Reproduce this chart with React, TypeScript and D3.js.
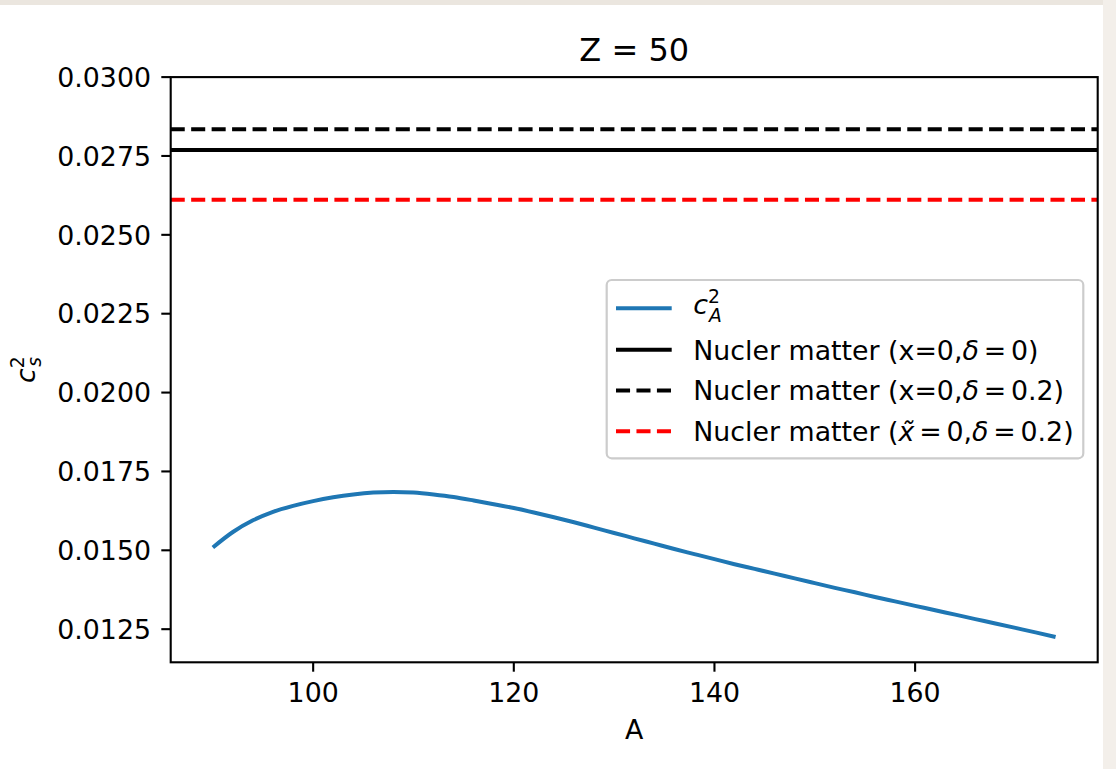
import React from "react";
import * as d3 from "d3";

// Mass numbers A and the corresponding c_A^2 curve (Z = 50)
const A_VALUES = [
  90, 92, 94, 96, 98, 100, 102, 104, 106, 108, 110, 112, 114, 116, 118, 120, 122,
  124, 126, 128, 130, 132, 134, 136, 138, 140, 142, 144, 146, 148, 150, 152, 154,
  156, 158, 160, 162, 164, 166, 168, 170, 172, 174,
];
const CA2_VALUES = [
  0.01509, 0.01558, 0.01595, 0.01622, 0.01641, 0.01656, 0.01668, 0.01677, 0.01683,
  0.01685, 0.01683, 0.01677, 0.01669, 0.01658, 0.01646, 0.01634, 0.0162, 0.01605,
  0.01589, 0.01572, 0.01555, 0.01538, 0.01521, 0.01504, 0.01488, 0.01472, 0.01456,
  0.01441, 0.01426, 0.01411, 0.01396, 0.01381, 0.01367, 0.01352, 0.01338, 0.01324,
  0.0131, 0.01296, 0.01282, 0.01268, 0.01254, 0.0124, 0.01225,
];

// Nuclear matter reference levels
const NM_X0_D0 = 0.02769;
const NM_X0_D02 = 0.02835;
const NM_XT0_D02 = 0.02611;

const X_TICKS = [100, 120, 140, 160];
const Y_TICKS = [0.0125, 0.015, 0.0175, 0.02, 0.0225, 0.025, 0.0275, 0.03];

const X_DOMAIN = [85.8, 178.2];
const Y_DOMAIN = [0.01145, 0.03];

const W = 1116;
const H = 769;
const PLOT = { left: 170.7, right: 1097.7, top: 77.1, bottom: 662.3 };

const FONT = "'DejaVu Sans', sans-serif";
const FS = 26.8;
const BLUE = "#1f77b4";
const LW = 4;
const DASH = `${3.7 * LW * 0.95},${1.6 * LW}`;
const REL = 4.8; // spacing around "=" in math segments

export default function App() {
  const x = d3.scaleLinear().domain(X_DOMAIN).range([PLOT.left, PLOT.right]);
  const y = d3.scaleLinear().domain(Y_DOMAIN).range([PLOT.bottom, PLOT.top]);

  const pts: [number, number][] = A_VALUES.map((a, i) => [a, CA2_VALUES[i]]);
  const line = d3
    .line<[number, number]>()
    .x((d) => x(d[0]))
    .y((d) => y(d[1]))
    .curve(d3.curveMonotoneX);

  const tick = 9.4;
  const legend = { x: 606.7, y: 280, w: 476.6, h: 178.3 };
  const rowY = [308.3, 349.8, 390.5, 431.2];
  const lx0 = 616;
  const lx1 = 671.7;
  const tx = 693.3;

  const mathEq = (rhs: string) => [
    <tspan key="eq" dx={REL}>=</tspan>,
    <tspan key="rhs" dx={REL}>{rhs}</tspan>,
  ];

  return (
    <div style={{ position: "absolute", left: 0, top: 0, width: W, height: H }}>
      <svg width={W} height={H} style={{ display: "block" }} fontFamily={FONT}>
        <rect x={0} y={0} width={W} height={H} fill="#ffffff" />
        <rect x={0} y={0} width={W} height={5} fill="#ebe6df" />
        <rect x={1103} y={0} width={W - 1103} height={H} fill="#f3efea" />

        <defs>
          <clipPath id="plot-clip">
            <rect
              x={PLOT.left}
              y={PLOT.top}
              width={PLOT.right - PLOT.left}
              height={PLOT.bottom - PLOT.top}
            />
          </clipPath>
        </defs>

        <g clipPath="url(#plot-clip)">
          <line
            x1={PLOT.left}
            x2={PLOT.right}
            y1={y(NM_X0_D0)}
            y2={y(NM_X0_D0)}
            stroke="#000"
            strokeWidth={LW}
          />
          <line
            x1={PLOT.left}
            x2={PLOT.right}
            y1={y(NM_X0_D02)}
            y2={y(NM_X0_D02)}
            stroke="#000"
            strokeWidth={LW}
            strokeDasharray={DASH}
          />
          <line
            x1={PLOT.left}
            x2={PLOT.right}
            y1={y(NM_XT0_D02)}
            y2={y(NM_XT0_D02)}
            stroke="#ff0000"
            strokeWidth={LW}
            strokeDasharray={DASH}
          />
          <path d={line(pts) || ""} fill="none" stroke={BLUE} strokeWidth={LW} />
        </g>

        {/* axes frame */}
        <rect
          x={PLOT.left}
          y={PLOT.top}
          width={PLOT.right - PLOT.left}
          height={PLOT.bottom - PLOT.top}
          fill="none"
          stroke="#000"
          strokeWidth={2.1}
        />

        {/* x ticks */}
        {X_TICKS.map((t) => (
          <g key={`x${t}`}>
            <line
              x1={x(t)}
              x2={x(t)}
              y1={PLOT.bottom}
              y2={PLOT.bottom + tick}
              stroke="#000"
              strokeWidth={2.1}
            />
            <text x={x(t)} y={701.7} fontSize={FS} textAnchor="middle" fill="#000">
              {String(t)}
            </text>
          </g>
        ))}

        {/* y ticks */}
        {Y_TICKS.map((t) => (
          <g key={`y${t}`}>
            <line
              x1={PLOT.left - tick}
              x2={PLOT.left}
              y1={y(t)}
              y2={y(t)}
              stroke="#000"
              strokeWidth={2.1}
            />
            <text
              x={151}
              y={y(t) + 9.7}
              fontSize={FS}
              textAnchor="end"
              fill="#000"
            >
              {t.toFixed(4)}
            </text>
          </g>
        ))}

        {/* title */}
        <text
          x={(PLOT.left + PLOT.right) / 2}
          y={61}
          fontSize={32}
          textAnchor="middle"
          fill="#000"
        >
          Z = 50
        </text>

        {/* x label */}
        <text
          x={(PLOT.left + PLOT.right) / 2}
          y={739}
          fontSize={FS}
          textAnchor="middle"
          fill="#000"
        >
          A
        </text>

        {/* y label: c_s^2 */}
        <text
          transform={`translate(35,${(PLOT.top + PLOT.bottom) / 2}) rotate(-90)`}
          fontSize={FS}
          textAnchor="middle"
          fill="#000"
        >
          <tspan fontStyle="italic">c</tspan>
          <tspan fontSize={FS * 0.7} dy={-11}>2</tspan>
          <tspan fontSize={FS * 0.7} fontStyle="italic" dx={-10.5} dy={17}>s</tspan>
        </text>

        {/* legend */}
        <rect
          x={legend.x}
          y={legend.y}
          width={legend.w}
          height={legend.h}
          rx={5}
          ry={5}
          fill="#ffffff"
          fillOpacity={0.8}
          stroke="#cccccc"
          strokeWidth={2.2}
        />
        <line x1={lx0} x2={lx1} y1={rowY[0]} y2={rowY[0]} stroke={BLUE} strokeWidth={LW} />
        <line x1={lx0} x2={lx1} y1={rowY[1]} y2={rowY[1]} stroke="#000" strokeWidth={LW} />
        <line
          x1={lx0}
          x2={lx1}
          y1={rowY[2]}
          y2={rowY[2]}
          stroke="#000"
          strokeWidth={LW}
          strokeDasharray={DASH}
        />
        <line
          x1={lx0}
          x2={lx1}
          y1={rowY[3]}
          y2={rowY[3]}
          stroke="#ff0000"
          strokeWidth={LW}
          strokeDasharray={DASH}
        />

        <text x={tx} y={rowY[0] + 6} fontSize={FS} fill="#000">
          <tspan fontStyle="italic">c</tspan>
          <tspan fontSize={FS * 0.7} dy={-11}>2</tspan>
          <tspan fontSize={FS * 0.7} fontStyle="italic" dx={-11} dy={19}>A</tspan>
        </text>
        <text x={tx} y={rowY[1] + 9.8} fontSize={FS} fill="#000">
          <tspan>Nucler matter (x=0,</tspan>
          <tspan fontStyle="italic">δ</tspan>
          {mathEq("0")}
          <tspan>)</tspan>
        </text>
        <text x={tx} y={rowY[2] + 9.8} fontSize={FS} fill="#000">
          <tspan>Nucler matter (x=0,</tspan>
          <tspan fontStyle="italic">δ</tspan>
          {mathEq("0.2")}
          <tspan>)</tspan>
        </text>
        <text x={tx} y={rowY[3] + 9.8} fontSize={FS} fill="#000">
          <tspan>Nucler matter (</tspan>
          <tspan fontStyle="italic">x̃</tspan>
          {mathEq("0,")}
          <tspan fontStyle="italic">δ</tspan>
          {mathEq("0.2")}
          <tspan>)</tspan>
        </text>
      </svg>
    </div>
  );
}
